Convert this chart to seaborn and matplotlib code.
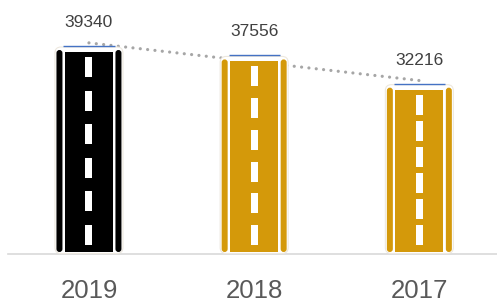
import numpy as np
import pandas as pd
import matplotlib
matplotlib.use("Agg")
import matplotlib.pyplot as plt
import seaborn as sns
from matplotlib.patches import FancyBboxPatch, Rectangle

# --- datos ---
years = ["2019", "2018", "2017"]
values = [39340, 37556, 32216]
road_colors = ["#000000", "#D4990A", "#D4990A"]

sns.set_style("white")
plt.rcParams["font.family"] = ["Liberation Sans", "DejaVu Sans"]

W, H = 497, 304
fig = plt.figure(figsize=(W / 100, H / 100), dpi=100)
ax_l, ax_b, ax_w, ax_h = 8, 50, 489, 254
ax = fig.add_axes([ax_l / W, ax_b / H, ax_w / W, ax_h / H])

df = pd.DataFrame({"year": years, "count": values})
sns.barplot(data=df, x="year", y="count", width=0.31, color="white",
            linewidth=0, ax=ax, zorder=1)

# linea de tendencia punteada
sns.regplot(x=np.arange(len(values)), y=np.array(values, dtype=float),
            scatter=False, ci=None, truncate=True, ax=ax,
            line_kws=dict(color="#A6A6A6", lw=2.3, ls=(0, (0.01, 2.3)),
                          dash_capstyle="round", zorder=2))

xlim = (-0.49, 2.47)
ylim = (0, 48040)
ax.set_xlim(*xlim)
ax.set_ylim(*ylim)

px_x = (xlim[1] - xlim[0]) / ax_w
px_y = (ylim[1] - ylim[0]) / ax_h
asp = px_y / px_x


def rbox(x0, x1, y0, y1, r, **kw):
    p = FancyBboxPatch((x0, y0), x1 - x0, y1 - y0,
                       boxstyle=f"round,pad=0,rounding_size={r * px_x}",
                       mutation_aspect=asp, **kw)
    ax.add_patch(p)


# dibujar la "carretera" sobre cada barra
for bar, col in zip(ax.patches[:len(values)], road_colors):
    c = bar.get_x() + bar.get_width() / 2
    top = bar.get_height()
    x = lambda p: c + p * px_x
    bottom = 2 * px_y
    # marco claro
    rbox(x(-34), x(34), 0.5 * px_y, top - 1 * px_y, 6,
         facecolor="white", edgecolor="#EDE8DF", lw=0.8, zorder=3)
    # franjas laterales
    rbox(x(-32.5), x(-26.5), bottom, top - 4 * px_y, 3,
         facecolor=col, edgecolor="none", zorder=4)
    rbox(x(26.5), x(32.5), bottom, top - 4 * px_y, 3,
         facecolor=col, edgecolor="none", zorder=4)
    # calzada central
    mid_top = top - 6 * px_y
    ax.add_patch(Rectangle((x(-24), bottom), 48 * px_x, mid_top - bottom,
                           facecolor=col, edgecolor="none", zorder=4))
    # lineas discontinuas
    d_len = 20 * px_y
    first = mid_top - 5 * px_y - d_len
    last = bottom + 7 * px_y
    for k in range(6):
        y0 = first - k * (first - last) / 5
        ax.add_patch(Rectangle((x(-3.5), y0), 7 * px_x, d_len,
                               facecolor="white", edgecolor="none", zorder=5))
    # borde superior azul
    ax.plot([bar.get_x(), bar.get_x() + bar.get_width()], [top, top],
            color="#4472C4", lw=1.0, zorder=6, solid_capstyle="butt")
    ax.annotate(f"{top:.0f}", xy=(c, top), xytext=(0, 17),
                textcoords="offset points", ha="center", va="center",
                fontsize=12.5, color="#404040")

for s in ["top", "right", "left"]:
    ax.spines[s].set_visible(False)
ax.spines["bottom"].set_color("#D9D9D9")
ax.spines["bottom"].set_linewidth(1.2)
ax.set_yticks([])
ax.set_xlabel("")
ax.set_ylabel("")
ax.tick_params(axis="x", length=0, pad=18, labelsize=18.5, labelcolor="#595959")

fig.savefig("out.png", dpi=100)
